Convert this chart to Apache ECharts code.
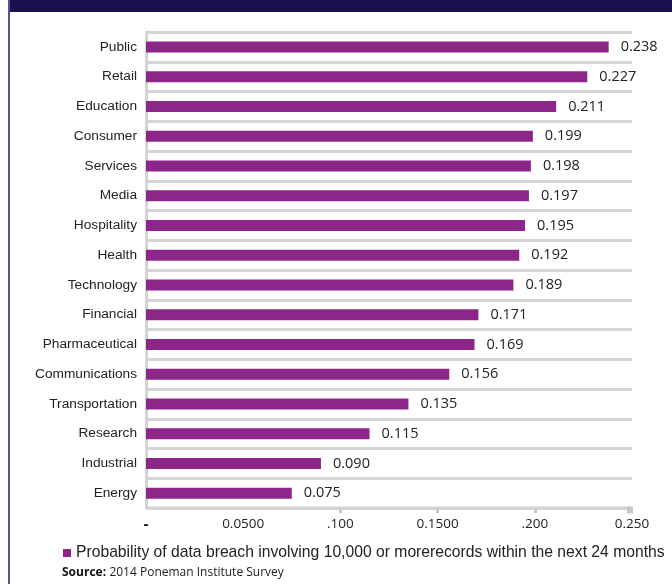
<!DOCTYPE html>
<html><head><meta charset="utf-8">
<script src="https://cdn.jsdelivr.net/npm/echarts@6/dist/echarts.min.js"></script>
<style>html,body{margin:0;padding:0;background:#fff}#c{width:672px;height:584px}</style>
</head><body><div id="c"></div>
<script>
const categories = ['Public','Retail','Education','Consumer','Services','Media','Hospitality','Health','Technology','Financial','Pharmaceutical','Communications','Transportation','Research','Industrial','Energy'];
const values = [0.238,0.227,0.211,0.199,0.198,0.197,0.195,0.192,0.189,0.171,0.169,0.156,0.135,0.115,0.090,0.075];
const tickValues = [0,0.05,0.1,0.15,0.2,0.25];
const tickLabels = ['-','0.0500','.100','0.1500','.200','0.250'];
const seriesName = 'Probability of data breach involving 10,000 or morerecords within the next 24 months';

const chart = echarts.init(document.getElementById('c'));
chart.setOption({
  animation:false,
  grid:{left:146,right:40,top:32,bottom:76,containLabel:false},
  legend:{
    data:[seriesName], left:58, top:540, icon:'rect', itemWidth:8, itemHeight:8,
    textStyle:{fontFamily:'Liberation Sans, Arial', fontSize:15.7, color:'#222'}
  },
  xAxis:{
    type:'value', min:0, max:0.25, interval:0.05,
    axisLine:{show:false},
    axisTick:{show:true, customValues:[0.1,0.15,0.2], length:5, lineStyle:{color:'#c8c8c8', width:3}},
    splitLine:{show:false},
    axisLabel:{
      customValues: tickValues,
      margin:9,
      fontFamily:'Open Sans', fontSize:13.5, color:'#222',
      formatter:function(v){const i=tickValues.findIndex(t=>Math.abs(t-v)<1e-9);return i===0?'{d|'+tickLabels[0]+'}':(i>0?tickLabels[i]:'');},
      rich:{d:{fontFamily:'Liberation Sans', fontWeight:'bold', fontSize:15, color:'#000'}}
    }
  },
  yAxis:{
    type:'category', data:categories, inverse:true,
    axisLine:{show:true, lineStyle:{color:'#d4d4d4', width:3}},
    axisTick:{show:false},
    splitLine:{show:true, lineStyle:{color:'#d4d4d4', width:3}},
    axisLabel:{margin:9, fontFamily:'Liberation Sans, Arial', fontSize:13.7, color:'#222'}
  },
  series:[{
    name:seriesName, type:'bar', data:values, barWidth:11,
    itemStyle:{color:'#8c2789'},
    label:{show:true, position:'right', distance:12, fontFamily:'Open Sans', fontSize:14.5, color:'#222',
      formatter:function(p){return p.value.toFixed(3);}}
  }],
  graphic:[
    {type:'rect', shape:{x:8,y:0,width:664,height:12}, style:{fill:'#1b1150'}, z:10},
    {type:'rect', shape:{x:8,y:0,width:2,height:584}, style:{fill:'#5d5190'}, z:10},
    {type:'rect', shape:{x:146,y:506.5,width:486,height:3}, style:{fill:'#d4d4d4'}, z:5},
    {type:'rect', shape:{x:627,y:506.5,width:6,height:7}, style:{fill:'#c8c8c8'}, z:5},
    {type:'text', left:62, top:567, z:10, style:{
      text:'{b|Source:} {n|2014 Poneman Institute Survey}',
      rich:{b:{fontFamily:'Open Sans', fontWeight:'bold', fontSize:12, fill:'#111'}, n:{fontFamily:'Open Sans', fontSize:12, fill:'#222'}}
    }}
  ]
});
</script></body></html>
